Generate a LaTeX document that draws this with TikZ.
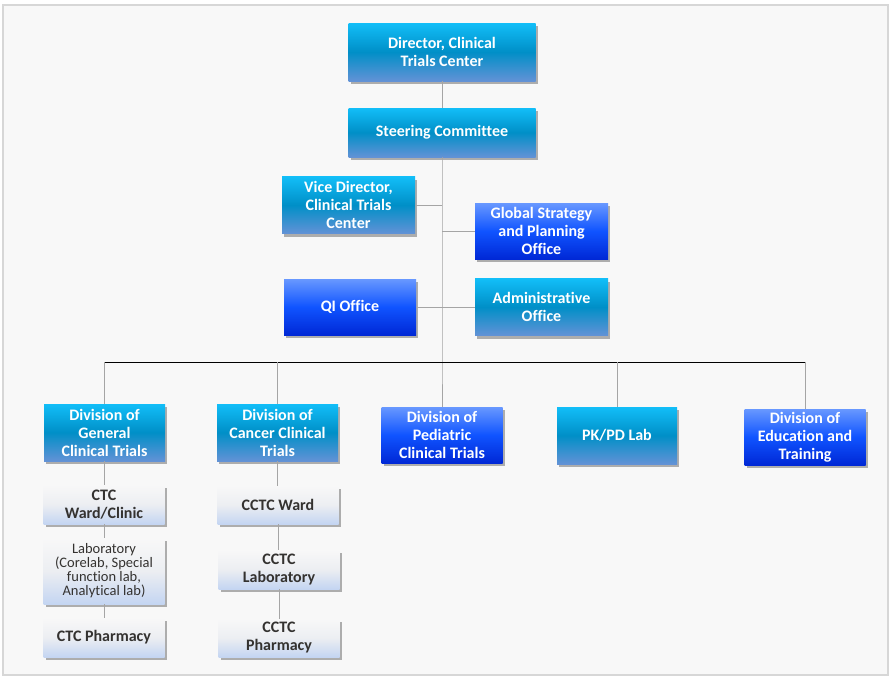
\documentclass[tikz,border=0pt]{standalone}
\usepackage{fontspec}
\setmainfont{Carlito}[Ligatures=NoCommon]
\usetikzlibrary{shadows}
\tikzstyle{chart} = [x = 1pt, y = -1pt]
\definecolor{cyanTop}{RGB}{18,190,248}
\definecolor{cyanMid}{RGB}{0,143,199}
\definecolor{cyanBottom}{RGB}{98,146,214}
\definecolor{blueTop}{RGB}{104,152,255}
\definecolor{blueMid}{RGB}{16,84,255}
\definecolor{blueBottom}{RGB}{0,40,214}
\definecolor{paleTop}{RGB}{248,248,248}
\definecolor{paleMid}{RGB}{236,238,242}
\definecolor{paleBottom}{RGB}{196,213,242}
\definecolor{paleText}{RGB}{52,50,48}
\definecolor{lineColor}{RGB}{165,165,165}
\definecolor{frameColor}{RGB}{248,248,248}
\definecolor{frameEdge}{RGB}{215,215,215}
\tikzstyle{frameStyle} = [fill=frameColor, draw=frameEdge, line width=1.5pt]
\tikzstyle{boxStyle} = [rectangle, inner sep=0pt, align=center, font=\bfseries\fontsize{16}{18}\selectfont, drop shadow={shadow xshift=2pt, shadow yshift=-3pt, fill=black, opacity=.3}]
\tikzstyle{cyanBoxStyle} = [boxStyle, top color=cyanTop, bottom color=cyanBottom, middle color=cyanMid, text=white]
\tikzstyle{blueBoxStyle} = [boxStyle, top color=blueTop, bottom color=blueBottom, middle color=blueMid, text=white]
\tikzstyle{paleBoxStyle} = [boxStyle, top color=paleTop, bottom color=paleBottom, middle color=paleMid, text=paleText]
\tikzstyle{smallText} = [font=\mdseries\fontsize{14.5}{14}\selectfont]
\tikzstyle{linkLine} = [color=lineColor, line width=1pt]
\tikzstyle{busLine} = [color=black, line width=1pt]
\newcommand{\cyanBox}[6]{\node [cyanBoxStyle, minimum width=#4pt, minimum height=#5pt] (#1) at (#2,#3) {#6};}
\newcommand{\blueBox}[6]{\node [blueBoxStyle, minimum width=#4pt, minimum height=#5pt] (#1) at (#2,#3) {#6};}
\newcommand{\paleBox}[6]{\node [paleBoxStyle, minimum width=#4pt, minimum height=#5pt] (#1) at (#2,#3) {#6};}
\begin{document}
\begin{tikzpicture}[chart]
          \useasboundingbox (0,0) rectangle (892,680);
          \filldraw [frameStyle] (3,5) rectangle (888,675);
          \coordinate (trunk) at (442,362);
          \coordinate (busLeft) at (105,362);
          \coordinate (busRight) at (805,362);

          \cyanBox{director}{442}{52}{187}{58}{Director, Clinical\\Trials Center}
          \cyanBox{steering}{442}{132.5}{187}{49}{Steering Committee}
          \cyanBox{vice}{348.5}{205}{133}{57}{Vice Director,\\Clinical Trials\\Center}
          \blueBox{global}{541.5}{231}{133}{56}{Global Strategy\\and Planning\\Office}
          \blueBox{qi}{350}{307}{132}{56}{QI Office}
          \cyanBox{admin}{541.5}{307}{133}{57}{Administrative\\Office}

          \cyanBox{gen}{104.5}{432.5}{121}{57}{Division of\\General\\Clinical Trials}
          \cyanBox{can}{277.5}{432.5}{121}{57}{Division of\\Cancer Clinical\\Trials}
          \blueBox{ped}{442}{435}{121}{56}{Division of\\Pediatric\\Clinical Trials}
          \cyanBox{pkpd}{617}{435.5}{120}{57}{PK/PD Lab}
          \blueBox{edu}{805}{437}{121}{56}{Division of\\Education and\\Training}

          \paleBox{ctcWard}{104}{504.5}{121}{39}{CTC\\Ward/Clinic}
          \node [paleBoxStyle, smallText, minimum width=121pt, minimum height=66pt] (ctcLab) at (104,571) {Laboratory\\(Corelab, Special\\function lab,\\Analytical lab)};
          \paleBox{ctcPharm}{104}{637.5}{121}{39}{CTC Pharmacy}
          \paleBox{cctcWard}{278}{505}{121}{38}{CCTC Ward}
          \paleBox{cctcLab}{279}{569.5}{121}{39}{CCTC\\Laboratory}
          \paleBox{cctcPharm}{279}{638}{121}{38}{CCTC\\Pharmacy}

          \draw [linkLine] (director) -- (steering);
          \draw [linkLine] (steering.south) -- (trunk) -- (ped.north);
          \draw [linkLine] (vice.east) -- (vice.east -| trunk);
          \draw [linkLine] (global.west) -- (global.west -| trunk);
          \draw [linkLine] (qi.east) -- (qi.east -| trunk);
          \draw [linkLine] (admin.west) -- (admin.west -| trunk);
          \draw [busLine] (busLeft) -- (busRight);
          \foreach \division in {gen,can,pkpd,edu} {
            \draw [linkLine] (\division.north) -- (\division.north |- busLeft);
          }
          \draw [linkLine] (gen.south) -- (gen.south |- ctcWard.north);
          \draw [linkLine] (ctcWard.south) -- (ctcWard.south |- ctcLab.north);
          \draw [linkLine] (ctcLab.south) -- (ctcLab.south |- ctcPharm.north);
          \draw [linkLine] (can.south) -- (can.south |- cctcWard.north);
          \draw [linkLine] (cctcWard.south) -- (cctcWard.south |- cctcLab.north);
          \draw [linkLine] (cctcLab.south) -- (cctcLab.south |- cctcPharm.north);
        \end{tikzpicture}
\end{document}
